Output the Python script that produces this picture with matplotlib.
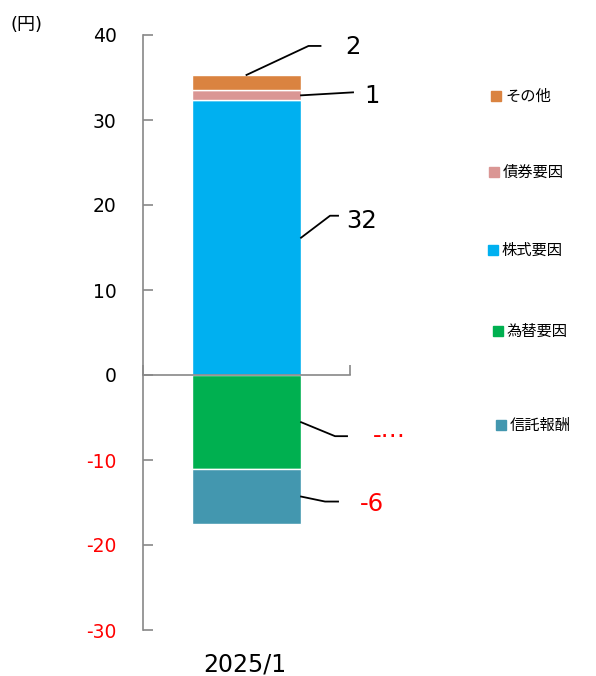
import matplotlib
matplotlib.use("Agg")
import matplotlib.pyplot as plt
from matplotlib.lines import Line2D
from matplotlib.patches import Rectangle
from matplotlib.transforms import IdentityTransform

plt.rcParams['font.family'] = ['DejaVu Sans', 'Noto Sans CJK JP']

category = "2025/1"
pos_names = ["株式要因", "債券要因", "その他"]
pos_values = [32.3, 1.2, 1.8]
neg_names = ["為替要因", "信託報酬"]
neg_values = [-11.1, -6.4]
colors = {"その他": "#DA8340", "債券要因": "#DA9694", "株式要因": "#00B0F0",
          "為替要因": "#00B050", "信託報酬": "#4397AF"}
legend_order = ["その他", "債券要因", "株式要因", "為替要因", "信託報酬"]
yticks = [-30, -20, -10, 0, 10, 20, 30, 40]

W, H = 596, 676
fig = plt.figure(figsize=(W / 100, H / 100), dpi=100)
ax = fig.add_axes([143 / W, (H - 630) / H, 207 / W, 595 / H])

bw = 0.527
segs = {}
bottom = 0
for n, v in zip(pos_names, pos_values):
    ax.bar(0, v, bottom=bottom, width=bw, color=colors[n], edgecolor='white', linewidth=1)
    segs[n] = (bottom, bottom + v)
    bottom += v
bottom = 0
for n, v in zip(neg_names, neg_values):
    ax.bar(0, v, bottom=bottom, width=bw, color=colors[n], edgecolor='white', linewidth=1)
    segs[n] = (bottom + v, bottom)
    bottom += v

ax.set_xlim(-0.5, 0.5)
ax.set_ylim(-30, 40)
ax.set_yticks(yticks)
ax.set_yticklabels([str(t) for t in yticks], fontsize=13.5)
for lbl, t in zip(ax.get_yticklabels(), yticks):
    lbl.set_color('red' if t < 0 else 'black')
ax.tick_params(axis='y', direction='in', length=7, color='#888888', width=1.2, pad=19)
ax.set_xticks([-0.5, 0.5])
ax.set_xticklabels([])
ax.tick_params(axis='x', direction='in', length=7, color='#888888', width=1.2)
ax.spines['bottom'].set_position(('data', 0))
for s in ['top', 'right']:
    ax.spines[s].set_visible(False)
for s in ['left', 'bottom']:
    ax.spines[s].set_color('#888888')
    ax.spines[s].set_linewidth(1.2)
ax.spines['bottom'].set_zorder(5)

fig.text(10 / W, 1 - 25 / H, "(円)", fontsize=13, va='center', ha='left')

# data labels with leader lines (pixel offsets, image y downwards)
def label(anchor, pts, txt_off, text, color, ha):
    x0, y0 = ax.transData.transform(anchor)
    xs = [x0] + [x0 + dx for dx, dy in pts]
    ys = [y0] + [y0 - dy for dx, dy in pts]
    fig.add_artist(Line2D(xs, ys, transform=IdentityTransform(), color='black', lw=1.3))
    fig.text((x0 + txt_off[0]) / W, (y0 - txt_off[1]) / H, text, color=color,
             fontsize=17.5, ha=ha, va='center')

vals = dict(zip(pos_names + neg_names, pos_values + neg_values))
def fmt(n):
    return f"{round(vals[n]):d}"

xr = bw / 2
label((0, segs["その他"][1]), [(62, -29), (74, -29)], (106, -28), fmt("その他"), 'black', 'center')
label((xr, sum(segs["債券要因"]) / 2), [(52, -3)], (63, 1), fmt("債券要因"), 'black', 'left')
label((xr, sum(segs["株式要因"]) / 2), [(29, -22), (37, -22)], (61, -17), fmt("株式要因"), 'black', 'center')
label((xr, sum(segs["為替要因"]) / 2), [(34, 14), (46, 14)], (72, 14), fmt("為替要因")[:1] + "⋯", 'red', 'left')
label((xr, sum(segs["信託報酬"]) / 2), [(24, 5), (37, 5)], (59, 7), fmt("信託報酬"), 'red', 'left')

# legend (manual, uneven spacing as in reference)
leg_y = [96, 172, 250, 331, 425]
leg_mx = [496, 494, 493, 498, 501]
for n, y, mx in zip(legend_order, leg_y, leg_mx):
    s = 10
    fig.add_artist(Rectangle(((mx - s / 2) / W, 1 - (y + s / 2) / H), s / W, s / H,
                             transform=fig.transFigure, color=colors[n]))
    fig.text((mx + 9) / W, 1 - y / H, n, fontsize=11, va='center', ha='left')

# category label at bottom
fig.text(245 / W, 1 - 665 / H, category, fontsize=17, ha='center', va='center')

fig.savefig("out.png", dpi=100)
